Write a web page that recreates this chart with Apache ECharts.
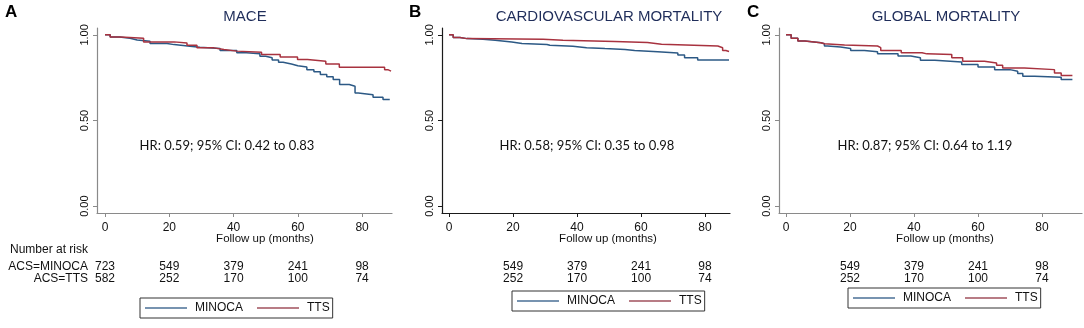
<!DOCTYPE html>
<html>
<head>
<meta charset="utf-8">
<script src="https://cdn.jsdelivr.net/npm/echarts@6/dist/echarts.min.js"></script>
<style>
  html, body { margin: 0; padding: 0; background: #fff; }
  #chart { width: 1084px; height: 328px; }
</style>
</head>
<body>
<div id="chart"></div>
<script>
// Kaplan-Meier estimates: [month, survival]
const maceMinoca = [[0, 1], [1.6, 0.988], [4.5, 0.98], [7.8, 0.97], [10, 0.963], [14, 0.95], [19.3, 0.943],
  [21.5, 0.934], [26.4, 0.928], [29.5, 0.92], [35.8, 0.908], [41, 0.895], [44, 0.889], [48.2, 0.875],
  [50, 0.866], [52, 0.853], [54, 0.84], [55.4, 0.83], [58, 0.82], [60, 0.812], [62.8, 0.797], [65, 0.785],
  [67, 0.768], [69, 0.755], [71, 0.739], [73, 0.71], [76, 0.7], [77.8, 0.66], [78.8, 0.651], [83.4, 0.636],
  [86.5, 0.622], [88.6, 0.622]];
const maceTts = [[0, 1], [1.6, 0.988], [4.7, 0.98], [12, 0.959], [21.5, 0.953], [25.5, 0.94], [28.6, 0.924],
  [33.9, 0.914], [37, 0.905], [41, 0.899], [48.7, 0.885], [54.5, 0.87], [59.9, 0.856], [63, 0.846],
  [68.7, 0.83], [72.9, 0.811], [87, 0.797], [88, 0.788], [89, 0.788]];

const cvMinoca = [[0, 1], [1.3, 0.984], [3.4, 0.978], [5.6, 0.974], [10.6, 0.968], [14.4, 0.958], [19.6, 0.95],
  [22.8, 0.944], [30.6, 0.939], [31.5, 0.933], [38.7, 0.925], [43, 0.92], [48.7, 0.915], [55, 0.909],
  [58, 0.902], [65.2, 0.894], [71.5, 0.882], [73.6, 0.866], [77.7, 0.853], [87.5, 0.853]];
const cvTts = [[0, 1], [1.3, 0.984], [3.4, 0.978], [5.6, 0.974], [29.4, 0.968], [35.6, 0.961], [51.8, 0.955],
  [62, 0.945], [66.4, 0.935], [84, 0.925], [85.5, 0.909], [86.5, 0.903], [87.5, 0.903]];

const globalMinoca = [[0, 1], [1.6, 0.98], [3.7, 0.964], [5.9, 0.954], [10.9, 0.948], [12, 0.935], [13, 0.929],
  [17, 0.921], [20.2, 0.909], [24.5, 0.901], [28.6, 0.889], [35, 0.876], [39, 0.866], [42, 0.852],
  [46.5, 0.841], [54.9, 0.827], [60, 0.813], [65.2, 0.797], [70, 0.788], [72.4, 0.774], [74, 0.758],
  [77.7, 0.752], [86, 0.739], [89.5, 0.739]];
const globalTts = [[0, 1], [1.6, 0.98], [3.7, 0.964], [5.9, 0.954], [10.9, 0.948], [12, 0.941], [18.3, 0.935],
  [28.6, 0.925], [29.6, 0.909], [36, 0.896], [42.5, 0.889], [44, 0.885], [51.8, 0.866], [55.2, 0.846],
  [62, 0.836], [65.8, 0.823], [67.7, 0.807], [74.5, 0.797], [83.9, 0.778], [86, 0.762], [89.5, 0.762]];

// tick labels
const xTicks = [0, 20, 40, 60, 80];
const yTicks = [0, 0.5, 1];

// number at risk
const riskTicksA = [0, 20, 40, 60, 80];
const riskTicksBC = [20, 40, 60, 80];
const maceRiskMinoca = [723, 549, 379, 241, 98];
const maceRiskTts = [582, 252, 170, 100, 74];
const cvRiskMinoca = [549, 379, 241, 98];
const cvRiskTts = [252, 170, 100, 74];
const globalRiskMinoca = [549, 379, 241, 98];
const globalRiskTts = [252, 170, 100, 74];

const titles = ['MACE', 'CARDIOVASCULAR MORTALITY', 'GLOBAL MORTALITY'];
const letters = ['A', 'B', 'C'];
const hrTexts = ['HR: 0.59; 95% CI: 0.42 to 0.83', 'HR: 0.58; 95% CI: 0.35 to 0.98', 'HR: 0.87; 95% CI: 0.64 to 1.19'];

const BLUE = '#2c5985';
const RED = '#a8323f';
const FONT = '"Liberation Sans", Arial, sans-serif';

const panels = [
  {left: 97, width: 295, xMin: -2.5, xMax: 89.3, axisColor: '#8a8a8a', minoca: maceMinoca, tts: maceTts,
    riskTicks: riskTicksA, riskMinoca: maceRiskMinoca, riskTts: maceRiskTts,
    letterX: 5, titleX: 245, hrX: 227, nameX: 265, legendLeft: 140, legendTop: 298},
  {left: 442, width: 288, xMin: -2.2, xMax: 87.8, axisColor: '#1a1a1a', minoca: cvMinoca, tts: cvTts,
    riskTicks: riskTicksBC, riskMinoca: cvRiskMinoca, riskTts: cvRiskTts,
    letterX: 409, titleX: 609, hrX: 587, nameX: 608, legendLeft: 512, legendTop: 291},
  {left: 779, width: 303, xMin: -2.2, xMax: 92.5, axisColor: '#8a8a8a', minoca: globalMinoca, tts: globalTts,
    riskTicks: riskTicksBC, riskMinoca: globalRiskMinoca, riskTts: globalRiskTts,
    letterX: 747, titleX: 946, hrX: 925, nameX: 945, legendLeft: 848, legendTop: 288}
];

const grid = [];
const xAxis = [];
const yAxis = [];
const series = [];
const legend = [];
const graphic = [];

function riskAxis(i, p, values, margin) {
  return {
    type: 'value', gridIndex: i, position: 'bottom', min: p.xMin, max: p.xMax,
    axisLine: {show: false}, axisTick: {show: false}, splitLine: {show: false},
    axisLabel: {
      customValues: p.riskTicks, margin: margin, fontSize: 12, color: '#111', fontFamily: FONT,
      formatter: (v) => String(values[p.riskTicks.indexOf(Math.round(v))])
    }
  };
}

function text(str, x, y, font, fill, align) {
  return {
    type: 'text', x: x, y: y, silent: true,
    style: {text: str, font: font, fill: fill || '#111', textAlign: align || 'center', textVerticalAlign: 'middle'}
  };
}

panels.forEach((p, i) => {
  grid.push({left: p.left, top: 28, width: p.width, height: 185});

  const xIdx = xAxis.length;
  xAxis.push({
    type: 'value', gridIndex: i, position: 'bottom', min: p.xMin, max: p.xMax,
    axisLine: {show: true, onZero: false, lineStyle: {color: p.axisColor, width: 1.2}},
    axisTick: {show: true, length: 4, customValues: xTicks, lineStyle: {color: p.axisColor}},
    axisLabel: {customValues: xTicks, margin: 9, fontSize: 12, color: '#111', fontFamily: FONT},
    splitLine: {show: false}
  });
  xAxis.push(riskAxis(i, p, p.riskMinoca, 48));
  xAxis.push(riskAxis(i, p, p.riskTts, 60));

  yAxis.push({
    type: 'value', gridIndex: i, min: -0.04, max: 1.04,
    axisLine: {show: true, onZero: false, lineStyle: {color: p.axisColor, width: 1.2}},
    axisTick: {show: true, length: 4, customValues: yTicks, lineStyle: {color: p.axisColor}},
    axisLabel: {
      customValues: yTicks, rotate: 90, margin: 7, fontSize: 11, color: '#111', fontFamily: FONT,
      formatter: (v) => v.toFixed(2)
    },
    splitLine: {show: false}
  });

  series.push({
    type: 'line', name: 'MINOCA', xAxisIndex: xIdx, yAxisIndex: i, data: p.minoca,
    step: 'end', symbol: 'none', color: BLUE, lineStyle: {color: BLUE, width: 1.5}
  });
  series.push({
    type: 'line', name: 'TTS', xAxisIndex: xIdx, yAxisIndex: i, data: p.tts,
    step: 'end', symbol: 'none', color: RED, lineStyle: {color: RED, width: 1.5}
  });

  legend.push({
    data: [
      {name: 'MINOCA', itemStyle: {color: '#4a6f96'}},
      {name: 'TTS', itemStyle: {color: '#a0505c'}}
    ],
    left: p.legendLeft, top: p.legendTop, orient: 'horizontal',
    selectedMode: false, icon: 'rect', itemWidth: 42, itemHeight: 1.5, itemGap: 14,
    padding: [4, 3, 4, 5], borderColor: '#333', borderWidth: 1, borderRadius: 0,
    textStyle: {fontSize: 12, color: '#111', fontFamily: FONT, padding: [0, 0, 0, 3]}
  });

  graphic.push(text(letters[i], p.letterX, 12, 'bold 17px ' + FONT, '#000', 'left'));
  graphic.push(text(titles[i], p.titleX, 17, '15px ' + FONT, '#1f2d5a'));
  graphic.push(text(hrTexts[i], p.hrX, 146, '13px Lato, "Open Sans", sans-serif', '#111'));
  graphic.push(text('Follow up (months)', p.nameX, 239, '11.5px ' + FONT, '#111'));
});

graphic.push(text('Number at risk', 88, 250, '12px ' + FONT, '#111', 'right'));
graphic.push(text('ACS=MINOCA', 88, 267, '12px ' + FONT, '#111', 'right'));
graphic.push(text('ACS=TTS', 88, 279, '12px ' + FONT, '#111', 'right'));

const chart = echarts.init(document.getElementById('chart'), null, {renderer: 'canvas'});
chart.setOption({
  animation: false,
  backgroundColor: '#fff',
  grid: grid,
  xAxis: xAxis,
  yAxis: yAxis,
  legend: legend,
  series: series,
  graphic: graphic
});
</script>
</body>
</html>
